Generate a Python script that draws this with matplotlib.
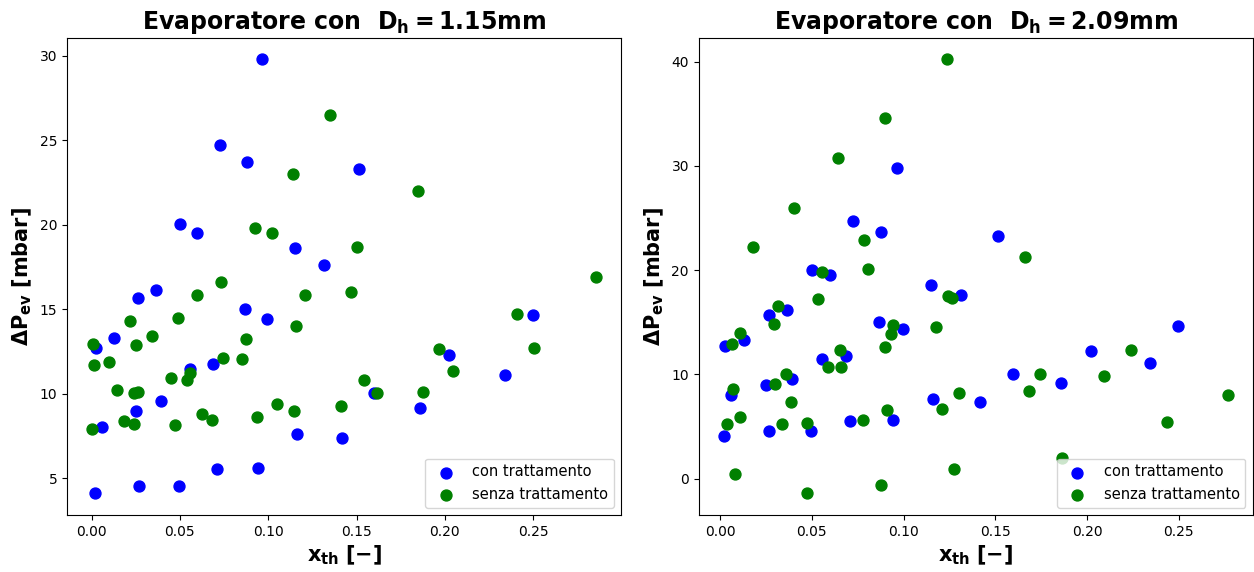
import numpy as np
import matplotlib.pyplot as plt

# con trattamento (same set in both panels)
x_con = [0.0963, 0.0725, 0.0878, 0.1515, 0.0500, 0.0597, 0.1150, 0.1315,
         0.0362, 0.0265, 0.0867, 0.0994, 0.2497, 0.0128, 0.0024, 0.2022,
         0.0685, 0.0556, 0.2341, 0.1596, 0.0394, 0.0250, 0.1860, 0.0060,
         0.1161, 0.1417, 0.0709, 0.0940, 0.0267, 0.0493, 0.0020]
y_con = [29.77, 24.73, 23.70, 23.29, 20.05, 19.53, 18.59, 17.59,
         16.14, 15.67, 15.03, 14.40, 14.65, 13.28, 12.70, 12.26,
         11.75, 11.45, 11.09, 10.06, 9.55, 8.98, 9.13, 8.01,
         7.62, 7.40, 5.56, 5.61, 4.56, 4.56, 4.12]

# senza trattamento, Dh = 1.15 mm
x_sen1 = [0.135, 0.114, 0.0923, 0.102, 0.185, 0.150, 0.2855, 0.073, 0.0598,
          0.1206, 0.1467, 0.0219, 0.0489, 0.1157, 0.0341, 0.0006, 0.0253,
          0.0872, 0.0011, 0.0096, 0.0744, 0.085, 0.0557, 0.0451, 0.054,
          0.0145, 0.0238, 0.0264, 0.1051, 0.1148, 0.141, 0.0623, 0.0681,
          0.0936, 0.0181, 0.0238, 0.0474, 0.0004, 0.2408, 0.1965, 0.2505,
          0.2048, 0.1544, 0.1614, 0.1878]
y_sen1 = [26.5, 23.0, 19.8, 19.5, 22.0, 18.66, 16.9, 16.6, 15.85,
          15.85, 16.0, 14.32, 14.47, 14.0, 13.39, 12.92, 12.86,
          13.21, 11.68, 11.86, 12.12, 12.08, 11.25, 10.9, 10.82,
          10.19, 10.07, 10.11, 9.4, 9.0, 9.25, 8.77, 8.44,
          8.61, 8.36, 8.22, 8.16, 7.93, 14.69, 12.67, 12.72,
          11.35, 10.82, 10.07, 10.13]

# senza trattamento, Dh = 2.09 mm
x_sen2 = [0.1234, 0.0899, 0.064, 0.0402, 0.0784, 0.0181, 0.0556, 0.0803,
          0.1661, 0.1241, 0.1266, 0.0533, 0.0315, 0.0292, 0.0942, 0.1177,
          0.0933, 0.0107, 0.0065, 0.0899, 0.0651, 0.0585, 0.0658, 0.0359,
          0.0299, 0.0071, 0.1304, 0.0384, 0.1208, 0.0909, 0.0110, 0.0038,
          0.0337, 0.0473, 0.0781, 0.0078, 0.1272, 0.0874, 0.0474, 0.2239,
          0.1745, 0.2092, 0.1685, 0.2766, 0.2435, 0.1866]
y_sen2 = [40.2, 34.57, 30.75, 25.93, 22.87, 22.26, 19.8, 20.12,
          21.3, 17.51, 17.32, 17.25, 16.58, 14.83, 14.77, 14.54,
          13.88, 13.93, 12.88, 12.66, 12.34, 10.72, 10.72, 10.05,
          9.05, 8.64, 8.19, 7.37, 6.73, 6.63, 5.9, 5.29,
          5.29, 5.39, 5.67, 0.41, 0.96, -0.64, -1.38, 12.31,
          10.05, 9.82, 8.38, 8.0, 5.42, 1.94]

fig, axs = plt.subplots(1, 2, figsize=(12.54, 5.72), dpi=100)
plt.subplots_adjust(left=0.0535, right=0.999, bottom=0.1, top=0.934, wspace=0.14)

panels = [(axs[0], x_sen1, y_sen1, '1.15'), (axs[1], x_sen2, y_sen2, '2.09')]
for ax, xs, ys, dh in panels:
    ax.scatter(x_con, y_con, s=62, color='blue', label='con trattamento')
    ax.scatter(xs, ys, s=62, color='green', label='senza trattamento')
    ax.set_title(r'Evaporatore con  $\mathbf{D_h = ' + dh + r'mm}$',
                 fontsize=17, fontweight='bold')
    ax.set_xlabel(r'$\mathbf{x_{th}\ [-]}$', fontsize=15)
    ax.set_ylabel(r'$\mathbf{\Delta P_{ev}\ [mbar]}$', fontsize=15)
    ax.tick_params(labelsize=10)
    ax.legend(loc='lower right', fontsize=10.5)

plt.savefig('out.png')
